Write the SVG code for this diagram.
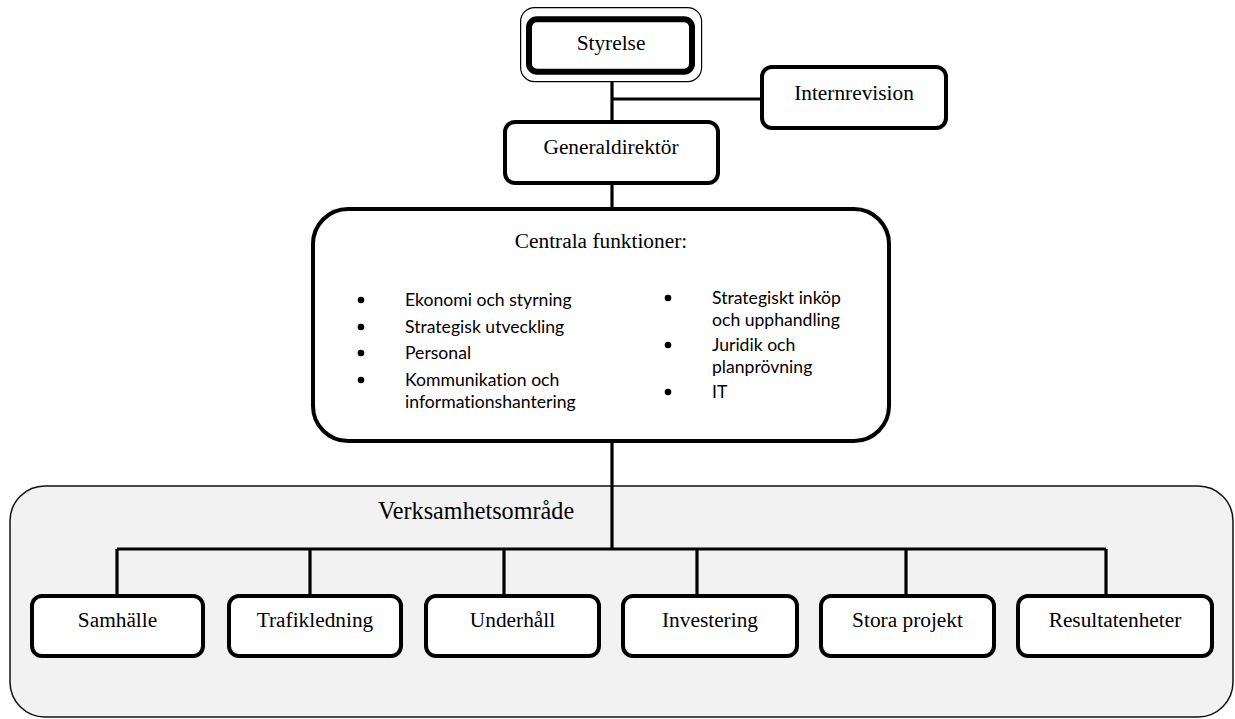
<svg xmlns="http://www.w3.org/2000/svg" width="1235" height="719" viewBox="0 0 1235 719">
<style>
.box{fill:#fff;stroke:#000;stroke-width:4}
.lbl{font-family:"Liberation Serif","Times New Roman",serif;font-size:21.33px;fill:#000;text-anchor:middle}
.li{font-family:Lato,"Liberation Sans",sans-serif;font-size:17.6px;fill:#000;font-variant-ligatures:none}
.con{stroke:#000;stroke-width:3.2;fill:none}
.dot{fill:#000}
</style>
<rect x="0" y="0" width="1235" height="719" fill="#fff"/>
<g id="verksamhetsomrade">
<rect x="10" y="486" width="1223" height="231" rx="35" ry="35" fill="#f2f2f2" stroke="#111" stroke-width="1.5"/>
<text x="378" y="519" font-family="Liberation Serif,Times New Roman,serif" font-size="24.2px" fill="#000">Verksamhetsområde</text>
</g>
<g id="connectors">
<path class="con" d="M612 82V122M612 99H762M612 185V209M612 443V549M117 549H1106M117 549V596M310 549V596M504 549V596M697 549V596M906 549V596M1106 549V596"/>
</g>
<g id="styrelse">
<rect x="520.6" y="7.6" width="181" height="74" rx="14" ry="14" fill="#fff" stroke="#000" stroke-width="1.2"/>
<rect x="529" y="19.3" width="163" height="52.4" rx="8" ry="8" fill="#fff" stroke="#000" stroke-width="6"/>
<text class="lbl" x="611" y="50">Styrelse</text>
</g>
<g id="internrevision">
<rect class="box" x="762" y="67" width="184" height="61" rx="10" ry="10"/>
<text class="lbl" x="854" y="100">Internrevision</text>
</g>
<g id="generaldirektor">
<rect class="box" x="505" y="122" width="213" height="61" rx="10" ry="10"/>
<text class="lbl" x="611" y="154">Generaldirektör</text>
</g>
<g id="centrala">
<rect class="box" x="313" y="209" width="576" height="232" rx="35" ry="35"/>
<text class="lbl" x="601" y="248">Centrala funktioner:</text>
<circle class="dot" cx="361" cy="300" r="3.3"/>
<circle class="dot" cx="361" cy="327" r="3.3"/>
<circle class="dot" cx="361" cy="353" r="3.3"/>
<circle class="dot" cx="361" cy="380" r="3.3"/>
<text class="li" x="405" y="306">Ekonomi och styrning</text>
<text class="li" x="405" y="333">Strategisk utveckling</text>
<text class="li" x="405" y="359">Personal</text>
<text class="li" x="405" y="386">Kommunikation och</text>
<text class="li" x="405" y="408">informationshantering</text>
<circle class="dot" cx="668" cy="298" r="3.3"/>
<circle class="dot" cx="668" cy="345" r="3.3"/>
<circle class="dot" cx="668" cy="392" r="3.3"/>
<text class="li" x="712" y="304">Strategiskt inköp</text>
<text class="li" x="712" y="326">och upphandling</text>
<text class="li" x="712" y="351">Juridik och</text>
<text class="li" x="712" y="373">planprövning</text>
<text class="li" x="712" y="398">IT</text>
</g>
<g id="samhalle">
<rect class="box" x="32" y="596" width="171" height="60" rx="10" ry="10"/>
<text class="lbl" x="117.5" y="627">Samhälle</text>
</g>
<g id="trafikledning">
<rect class="box" x="229" y="596" width="172" height="60" rx="10" ry="10"/>
<text class="lbl" x="315" y="627">Trafikledning</text>
</g>
<g id="underhall">
<rect class="box" x="426" y="596" width="173" height="60" rx="10" ry="10"/>
<text class="lbl" x="512.5" y="627">Underhåll</text>
</g>
<g id="investering">
<rect class="box" x="623" y="596" width="174" height="60" rx="10" ry="10"/>
<text class="lbl" x="710" y="627">Investering</text>
</g>
<g id="stora-projekt">
<rect class="box" x="821" y="596" width="173" height="60" rx="10" ry="10"/>
<text class="lbl" x="907.5" y="627">Stora projekt</text>
</g>
<g id="resultatenheter">
<rect class="box" x="1018" y="596" width="194" height="60" rx="10" ry="10"/>
<text class="lbl" x="1115" y="627">Resultatenheter</text>
</g>
</svg>
